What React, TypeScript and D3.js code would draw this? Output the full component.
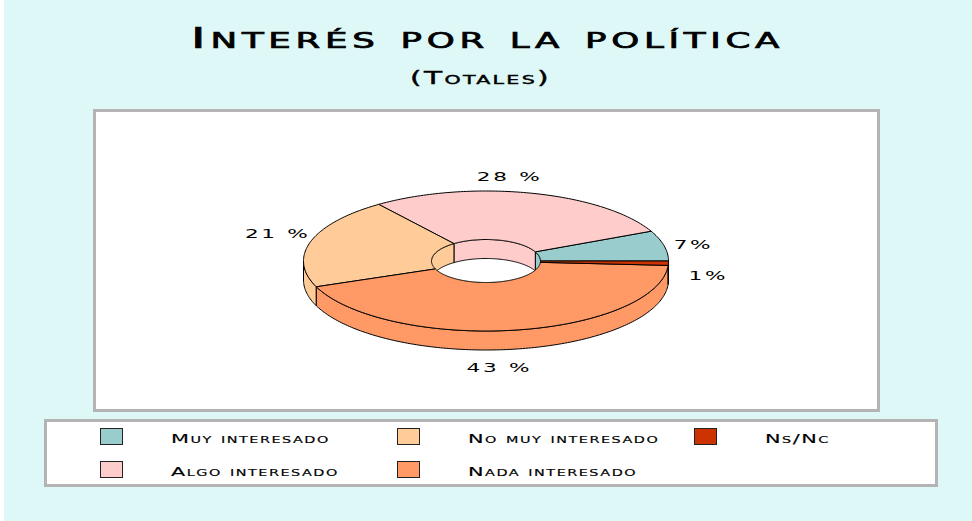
import React from 'react';
import * as d3 from 'd3';

const categories = ["Muy interesado", "Algo interesado", "No muy interesado", "Nada interesado", "Ns/Nc"];
const values = [7, 28, 21, 43, 1];
const colors = ["#99CCCC", "#FFCCCC", "#FFCC99", "#FF9966", "#CC3300"];
const valueLabels = ["7%", "28 %", "21 %", "43 %", "1%"];
const title = "Interés por la política";
const subtitle = "(Totales)";

const W = 972, H = 521;
const CX = 486, CY = 261, RX = 182.5, RY = 70, IRX = 54.5, IRY = 21.5, DEPTH = 19;
const labelNudge: [number, number][] = [[5, 3.6], [-28, 3], [-9, -2], [-19, -1.4], [15, -7]];
const FONT = "'DejaVu Sans', sans-serif";

function arcPts(rx: number, ry: number, a0: number, a1: number, dy: number): [number, number][] {
  const n = Math.max(2, Math.ceil(Math.abs(a1 - a0) / (Math.PI / 180)) + 1);
  return d3.range(n).map((i) => {
    const a = a0 + ((a1 - a0) * i) / (n - 1);
    return [CX + rx * Math.cos(a), CY - ry * Math.sin(a) + dy] as [number, number];
  });
}

const line = d3.line();

function WideText(props: { x: number; y: number; sx: number; size: number; ls: number; anchor?: string; sw?: number; children: React.ReactNode }) {
  const { x, y, sx, size, ls, anchor = 'start', sw = 0, children } = props;
  return (
    <g transform={`translate(${x},${y}) scale(${sx},1)`}>
      <text
        x={0}
        y={0}
        textAnchor={anchor}
        fontSize={size}
        fontFamily={FONT}
        fill="#000"
        stroke={sw > 0 ? '#000' : 'none'}
        strokeWidth={sw}
        style={{ fontVariant: 'small-caps', letterSpacing: `${ls}px` }}
      >
        {children}
      </text>
    </g>
  );
}

export default function App() {
  const arcs = d3.pie<number>().sort(null).value((d) => d)(values);

  const topFaces = arcs.map((a, i) => {
    const pts = [...arcPts(RX, RY, a.startAngle, a.endAngle, 0), ...arcPts(IRX, IRY, a.endAngle, a.startAngle, 0)];
    return <path key={`t${i}`} d={line(pts) + 'Z'} fill={colors[i]} stroke="#000" strokeWidth={1} strokeLinejoin="round" />;
  });

  const sides = arcs.map((a, i) => {
    const s = Math.max(a.startAngle, Math.PI), e = Math.min(a.endAngle, 2 * Math.PI);
    if (e <= s) return null;
    const pts = [...arcPts(RX, RY, s, e, 0), ...arcPts(RX, RY, e, s, DEPTH)];
    return <path key={`s${i}`} d={line(pts) + 'Z'} fill={colors[i]} stroke="#000" strokeWidth={1} strokeLinejoin="round" />;
  });

  const innerWalls = arcs.map((a, i) => {
    const s = Math.max(a.startAngle, 0), e = Math.min(a.endAngle, Math.PI);
    if (e <= s) return null;
    const pts = [...arcPts(IRX, IRY, s, e, 0), ...arcPts(IRX, IRY, e, s, DEPTH)];
    return <path key={`w${i}`} d={line(pts) + 'Z'} fill={colors[i]} stroke="#000" strokeWidth={1} strokeLinejoin="round" />;
  });

  const labels = arcs.map((a, i) => {
    const mid = (a.startAngle + a.endAngle) / 2;
    const s = Math.sin(mid);
    const x = CX + (RX + 25) * Math.cos(mid) + labelNudge[i][0];
    const y = CY - (RY + 20) * s + (s < 0 ? DEPTH : 0) + labelNudge[i][1];
    return (
      <WideText key={`l${i}`} x={x} y={y + 4.3} sx={1.8} size={12} ls={1.5} anchor="middle">
        {valueLabels[i]}
      </WideText>
    );
  });

  const legendCol = 297, legendRow = 33, legendX = 100, legendY = 428.5;
  const legend = categories.map((c, i) => {
    const col = Math.floor(i / 2), row = i % 2;
    const x = legendX + col * legendCol, y = legendY + row * legendRow;
    return (
      <g key={`g${i}`}>
        <rect x={x + 0.5} y={y} width={22} height={16} fill={colors[i]} stroke="#222" strokeWidth={1} />
        <WideText x={x + 71} y={y + 14.5} sx={1.6} size={13} ls={0.95} sw={0.15}>
          {c}
        </WideText>
      </g>
    );
  });

  return (
    <svg width={W} height={H} style={{ position: 'absolute', left: 0, top: 0, display: 'block' }}>
      <rect x={0} y={0} width={W} height={H} fill="#fff" />
      <rect x={4} y={0} width={W - 4} height={H} fill="#DEF8F8" />
      <WideText x={487.5} y={48} sx={1.75} size={29} ls={2.7} sw={0.7} anchor="middle">
        {title}
      </WideText>
      <WideText x={480.5} y={84} sx={1.65} size={18} ls={1.4} sw={0.4} anchor="middle">
        {subtitle}
      </WideText>
      <rect x={94.5} y={110.5} width={784} height={300} fill="#fff" stroke="#B4B4B4" strokeWidth={3} />
      <defs>
        <clipPath id="hole">
          <ellipse cx={CX} cy={CY} rx={IRX} ry={IRY} />
        </clipPath>
      </defs>
      <g clipPath="url(#hole)">{innerWalls}</g>
      {sides}
      {topFaces}
      {labels}
      <rect x={45.5} y={420.5} width={891} height={65} fill="#fff" stroke="#B4B4B4" strokeWidth={3} />
      {legend}
    </svg>
  );
}
